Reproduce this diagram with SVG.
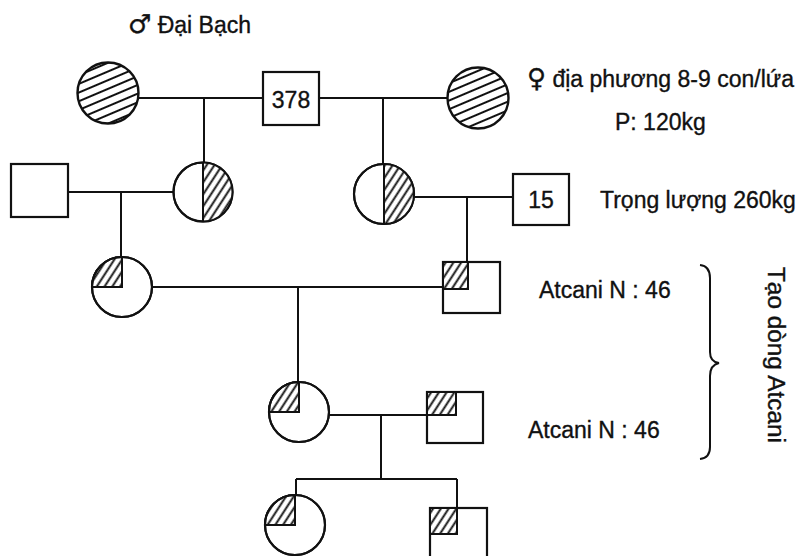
<svg xmlns="http://www.w3.org/2000/svg" width="799" height="556" viewBox="0 0 799 556">
<defs>
<style>
.ln{stroke:#111;stroke-width:2;fill:none}
.sh{stroke:#111;stroke-width:2.2;fill:#fff}
.hl{stroke:#111;stroke-width:2;fill:none}
.t{font-family:"Liberation Sans",Arial,"DejaVu Sans",sans-serif;fill:#111;stroke:#111;stroke-width:0.35;font-size:23px}
.sym{font-family:"DejaVu Sans",sans-serif;font-size:26px}
</style>
<pattern id="hatchA" patternUnits="userSpaceOnUse" width="20" height="8" patternTransform="rotate(-23)">
<rect width="20" height="8" fill="#fff"/>
<line x1="0" y1="4" x2="20" y2="4" stroke="#111" stroke-width="2"/>
</pattern>
<pattern id="hatchB" patternUnits="userSpaceOnUse" width="20" height="6.5" patternTransform="rotate(-57)">
<rect width="20" height="6.5" fill="#fff"/>
<line x1="0" y1="3.25" x2="20" y2="3.25" stroke="#111" stroke-width="1.9"/>
</pattern>
</defs>
<rect width="799" height="556" fill="#fff"/>

<g id="connectors">
<line class="ln" x1="139" y1="98" x2="263" y2="98"/>
<line class="ln" x1="319" y1="98" x2="448" y2="98"/>
<line class="ln" x1="204" y1="98" x2="204" y2="163"/>
<line class="ln" x1="383" y1="98" x2="383" y2="164"/>
<line class="ln" x1="68" y1="192" x2="173" y2="192"/>
<line class="ln" x1="121" y1="192" x2="121" y2="257"/>
<line class="ln" x1="414" y1="197" x2="513" y2="197"/>
<line class="ln" x1="467" y1="197" x2="467" y2="262"/>
<line class="ln" x1="152" y1="287" x2="443" y2="287"/>
<line class="ln" x1="298" y1="287" x2="298" y2="382"/>
<line class="ln" x1="329" y1="415" x2="427" y2="415"/>
<line class="ln" x1="381" y1="415" x2="381" y2="479"/>
<line class="ln" x1="296" y1="479" x2="457" y2="479"/>
<line class="ln" x1="296" y1="479" x2="296" y2="495"/>
<line class="ln" x1="457" y1="479" x2="457" y2="508"/>
</g>

<g id="n-top-left">
<circle cx="108" cy="93" r="30.5" fill="url(#hatchA)" stroke="#111" stroke-width="2.4"/>
</g>
<g id="n-378">
<rect class="sh" x="263" y="72" width="56" height="53"/>
<text class="t" x="291" y="108" text-anchor="middle" font-size="25">378</text>
</g>
<g id="n-top-right">
<circle cx="478" cy="98" r="30.5" fill="url(#hatchA)" stroke="#111" stroke-width="2.4"/>
</g>

<g id="n-g2-box">
<rect class="sh" x="11" y="164" width="57" height="53"/>
</g>
<g id="n-g2-left">
<circle cx="203" cy="192" r="29.5" class="sh"/>
<path d="M203,162.5 A29.5,29.5 0 0 1 203,221.5 Z" fill="url(#hatchB)" stroke="none"/>
<circle cx="203" cy="192" r="29.5" class="hl" stroke-width="2.2"/>
<line class="ln" x1="203" y1="162.5" x2="203" y2="221.5"/>
</g>
<g id="n-g2-right">
<circle cx="384" cy="194" r="30" class="sh"/>
<path d="M384,164 A30,30 0 0 1 384,224 Z" fill="url(#hatchB)" stroke="none"/>
<circle cx="384" cy="194" r="30" class="hl" stroke-width="2.2"/>
<line class="ln" x1="384" y1="164" x2="384" y2="224"/>
</g>
<g id="n-15">
<rect class="sh" x="513" y="174" width="56" height="51"/>
<text class="t" x="541" y="208" text-anchor="middle" font-size="24">15</text>
</g>

<g id="n-g3-left">
<circle cx="122" cy="287" r="30" class="sh"/>
<path d="M122,287 L92,287 A30,30 0 0 1 122,257 Z" fill="url(#hatchB)" stroke="#111" stroke-width="2"/>
<circle cx="122" cy="287" r="30" class="hl" stroke-width="2.2"/>
</g>
<g id="n-g3-right">
<rect class="sh" x="443" y="262" width="57" height="51"/>
<rect x="443" y="262" width="25" height="27" fill="url(#hatchB)" stroke="#111" stroke-width="2"/>
</g>

<g id="n-g4-left">
<circle cx="299" cy="412" r="30" class="sh"/>
<path d="M299,412 L269,412 A30,30 0 0 1 299,382 Z" fill="url(#hatchB)" stroke="#111" stroke-width="2"/>
<circle cx="299" cy="412" r="30" class="hl" stroke-width="2.2"/>
</g>
<g id="n-g4-right">
<rect class="sh" x="427" y="392" width="56" height="51"/>
<rect x="427" y="392" width="29" height="23" fill="url(#hatchB)" stroke="#111" stroke-width="2"/>
</g>

<g id="n-g5-left">
<circle cx="295" cy="525" r="30" class="sh"/>
<path d="M295,525 L265,525 A30,30 0 0 1 295,495 Z" fill="url(#hatchB)" stroke="#111" stroke-width="2"/>
<circle cx="295" cy="525" r="30" class="hl" stroke-width="2.2"/>
</g>
<g id="n-g5-right">
<rect class="sh" x="430" y="508" width="57" height="60"/>
<rect x="430" y="508" width="27" height="26" fill="url(#hatchB)" stroke="#111" stroke-width="2"/>
</g>

<g id="labels">
<text class="t" x="128" y="33" font-size="21"><tspan class="sym">♂</tspan> Đại Bạch</text>
<text class="t" x="527" y="87"><tspan class="sym" font-size="17">♀</tspan> địa phương 8-9 con/lứa</text>
<text class="t" x="615" y="130">P: 120kg</text>
<text class="t" x="600" y="208">Trọng lượng 260kg</text>
<text class="t" x="539" y="298">Atcani N : 46</text>
<text class="t" x="528" y="438">Atcani N : 46</text>
<text class="t" transform="translate(768,267) rotate(90)" textLength="176" lengthAdjust="spacingAndGlyphs">Tạo dòng Atcani</text>
</g>

<g id="brace">
<path class="ln" d="M700,265 Q710,266 710,278 L710,352 Q710,362 719,363 Q710,365 710,376 L710,447 Q710,458 700,459"/>
</g>
</svg>
